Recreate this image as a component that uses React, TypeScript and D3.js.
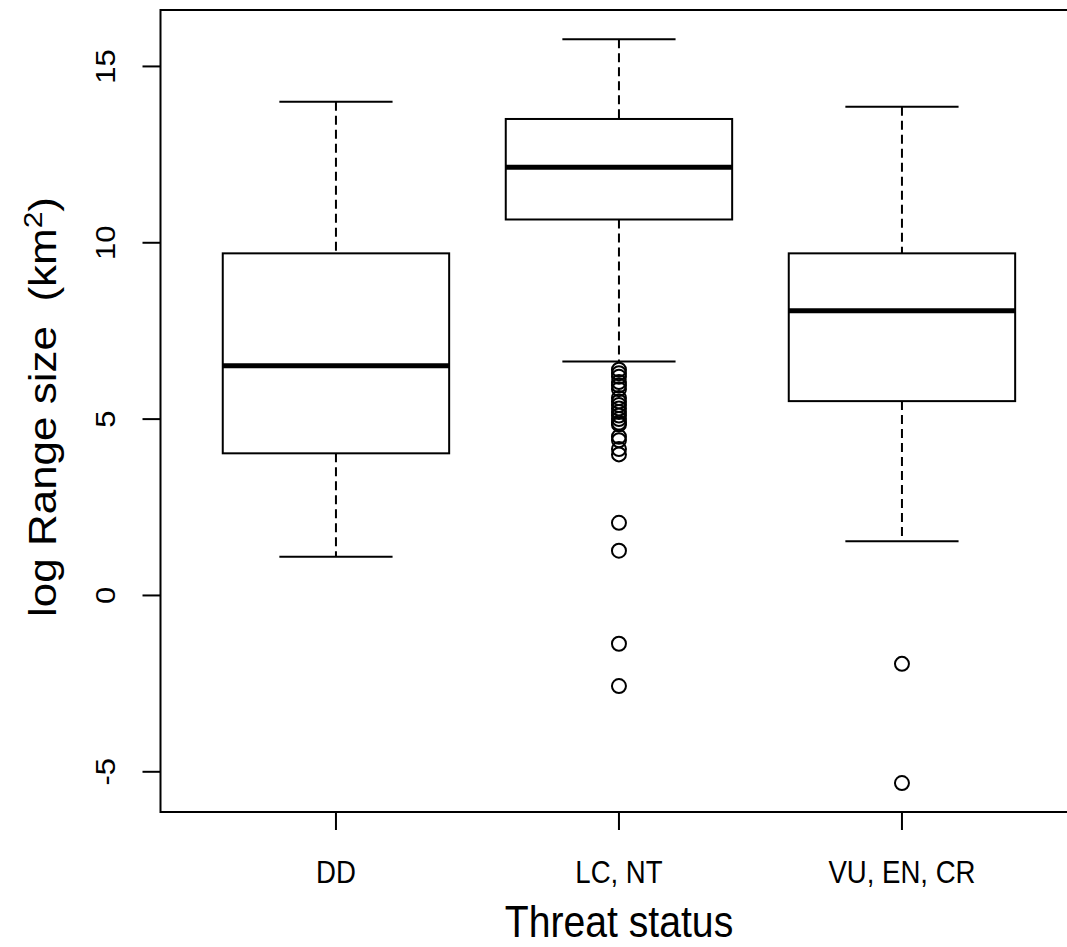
import React from "react";
import * as d3 from "d3";

const categories = ["DD", "LC, NT", "VU, EN, CR"];
const whiskerLow = [1.1, 6.63, 1.54];
const q1 = [4.03, 10.66, 5.51];
const medians = [6.51, 12.14, 8.07];
const q3 = [9.7, 13.51, 9.7];
const whiskerHigh = [14.0, 15.77, 13.86];
const outliersDD: number[] = [];
const outliersLC = [6.4, 6.3, 6.2, 6.05, 5.95, 5.85, 5.6, 5.5, 5.4, 5.3, 5.2, 5.1, 5.0, 4.9, 4.85, 4.5, 4.4, 4.15, 4.0, 2.06, 1.27, -1.37, -2.57];
const outliersVU = [-1.94, -5.32];
const outliers = [outliersDD, outliersLC, outliersVU];
const yTicks = [-5, 0, 5, 10, 15];

export default function App() {
  const W = 1067, H = 947;
  const left = 160.5, top = 10, bottom = 812;
  const unit = 283;
  const right = left + 3.24 * unit;
  const x = d3.scaleLinear().domain([0.38, 3.62]).range([left, right]);
  const y = d3.scaleLinear().domain([-6.14, 16.6]).range([bottom, top]);
  const boxHalf = 0.4, capHalf = 0.2;
  const font = "'Liberation Sans', Arial, sans-serif";
  const hs = 0.89;
  const tickFs = 31, labFs = 44;

  return (
    <svg width={W} height={H} style={{ position: "absolute", left: 0, top: 0, background: "#fff" }} fontFamily={font}>
      <rect x={0} y={0} width={W} height={H} fill="#fff" />
      {categories.map((c, i) => {
        const cx = x(i + 1);
        return (
          <g key={c}>
            <line x1={cx} x2={cx} y1={y(whiskerHigh[i])} y2={y(q3[i])} stroke="#000" strokeWidth={2} strokeDasharray="9,5" />
            <line x1={cx} x2={cx} y1={y(q1[i])} y2={y(whiskerLow[i])} stroke="#000" strokeWidth={2} strokeDasharray="9,5" />
            <line x1={x(i + 1 - capHalf)} x2={x(i + 1 + capHalf)} y1={y(whiskerHigh[i])} y2={y(whiskerHigh[i])} stroke="#000" strokeWidth={2} />
            <line x1={x(i + 1 - capHalf)} x2={x(i + 1 + capHalf)} y1={y(whiskerLow[i])} y2={y(whiskerLow[i])} stroke="#000" strokeWidth={2} />
            <rect x={x(i + 1 - boxHalf)} y={y(q3[i])} width={x(i + 1 + boxHalf) - x(i + 1 - boxHalf)} height={y(q1[i]) - y(q3[i])} fill="#fff" stroke="#000" strokeWidth={2} />
            <line x1={x(i + 1 - boxHalf)} x2={x(i + 1 + boxHalf)} y1={y(medians[i])} y2={y(medians[i])} stroke="#000" strokeWidth={5} />
            {outliers[i].map((v, j) => (
              <circle key={j} cx={cx} cy={y(v)} r={7} fill="none" stroke="#000" strokeWidth={2} />
            ))}
          </g>
        );
      })}
      <rect x={left} y={top} width={right - left} height={bottom - top} fill="none" stroke="#000" strokeWidth={2} />
      {yTicks.map((t) => (
        <g key={t}>
          <line x1={left - 18} x2={left} y1={y(t)} y2={y(t)} stroke="#000" strokeWidth={2} />
          <text transform={`translate(${115},${y(t)}) scale(${hs},1) rotate(-90)`} textAnchor="middle" fontSize={tickFs} fill="#000">{t}</text>
        </g>
      ))}
      {categories.map((c, i) => (
        <g key={c}>
          <line x1={x(i + 1)} x2={x(i + 1)} y1={bottom} y2={bottom + 18} stroke="#000" strokeWidth={2} />
          <text transform={`translate(${x(i + 1)},883) scale(${hs},1)`} textAnchor="middle" fontSize={tickFs} fill="#000">{c}</text>
        </g>
      ))}
      <text transform={`translate(${(left + right) / 2},937) scale(${hs},1)`} textAnchor="middle" fontSize={labFs} fill="#000">Threat status</text>
      <text transform={`translate(56,${(top + bottom) / 2 - 4}) scale(${hs},1) rotate(-90)`} textAnchor="middle" fontSize={labFs} fill="#000" style={{ whiteSpace: "pre" }}>
        {"log Range size  (km"}<tspan dy="-16" fontSize={30}>2</tspan><tspan dy="16">)</tspan>
      </text>
    </svg>
  );
}
